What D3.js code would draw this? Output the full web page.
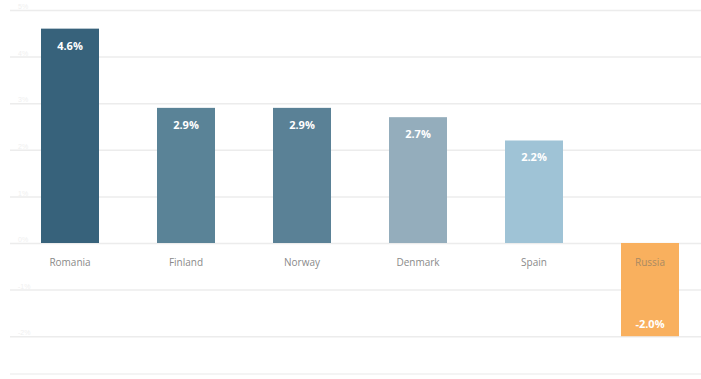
<!DOCTYPE html>
<html>
<head>
<meta charset="utf-8">
<script src="https://cdn.jsdelivr.net/npm/d3@7"></script>
<style>
  body { margin: 0; background: #fff; }
  svg { display: block; font-family: "Open Sans", sans-serif; }
</style>
</head>
<body>
<div id="chart"></div>
<script>
// data
var countries = ["Romania", "Finland", "Norway", "Denmark", "Spain", "Russia"];
var growth = [4.6, 2.9, 2.9, 2.7, 2.2, -2.0];
var barColours = ["#37627b", "#5a8397", "#5a8196", "#94adbc", "#9fc3d6", "#f9b05e"];
var gridTicks = [5, 4, 3, 2, 1, 0, -1, -2];

var width = 701, height = 379;
var margin = {top: 10, left: 12};

var svg = d3.select("#chart")
    .append("svg")
    .attr("width", width)
    .attr("height", height);

// x: one band per country, the last one runs past the right edge
var xScale = d3.scaleBand()
    .domain(countries)
    .range([margin.left, margin.left + 6 * 116])
    .paddingInner(0.5)
    .paddingOuter(0.25);

// y: 1% is about 46.6px
var yScale = d3.scaleLinear()
    .domain([5, -2])
    .range([margin.top, margin.top + 7 * 46.6]);

// gridlines
var yAxis = d3.axisLeft(yScale)
    .tickValues(gridTicks)
    .tickSize(-(width - 10))
    .tickFormat(function(d) { return d + "%"; });

var grid = svg.append("g")
    .attr("class", "grid")
    .attr("transform", "translate(10,0)")
    .call(yAxis);

grid.select(".domain").remove();
grid.selectAll(".tick line")
    .attr("stroke", "#ececec")
    .attr("stroke-width", 1.5);
grid.selectAll(".tick text")
    .attr("x", 8)
    .attr("dy", "-0.2em")
    .attr("text-anchor", "start")
    .attr("fill", "#f0f0f0")
    .style("font-size", "7px");

// faint frame line at the bottom
svg.append("line")
    .attr("x1", 10).attr("x2", width)
    .attr("y1", 374).attr("y2", 374)
    .attr("stroke", "#f0f0f0")
    .attr("stroke-width", 1.5);

var rows = countries.map(function(c, i) {
    return {country: c, value: growth[i], colour: barColours[i]};
});

// bars
svg.selectAll(".bar")
    .data(rows)
    .enter().append("rect")
    .attr("class", "bar")
    .attr("x", function(d) { return xScale(d.country); })
    .attr("width", xScale.bandwidth())
    .attr("y", function(d) { return yScale(Math.max(0, d.value)); })
    .attr("height", function(d) { return Math.abs(yScale(d.value) - yScale(0)); })
    .attr("fill", function(d) { return d.colour; });

// value labels inside the bar ends
svg.selectAll(".value")
    .data(rows)
    .enter().append("text")
    .attr("class", "value")
    .attr("x", function(d) { return xScale(d.country) + xScale.bandwidth() / 2; })
    .attr("y", function(d) {
        return d.value >= 0 ? yScale(d.value) + 21 : yScale(d.value) - 8;
    })
    .attr("text-anchor", "middle")
    .attr("fill", "#fff")
    .style("font-size", "11px")
    .style("font-weight", "bold")
    .text(function(d) { return d.value.toFixed(1) + "%"; });

// country labels under the zero line
svg.selectAll(".country")
    .data(rows)
    .enter().append("text")
    .attr("class", "country")
    .attr("x", function(d) { return xScale(d.country) + xScale.bandwidth() / 2; })
    .attr("y", yScale(0) + 23)
    .attr("text-anchor", "middle")
    .attr("fill", function(d) { return d.value < 0 ? "#a98a63" : "#8a8a8a"; })
    .style("font-size", "10px")
    .text(function(d) { return d.country; });
</script>
</body>
</html>
